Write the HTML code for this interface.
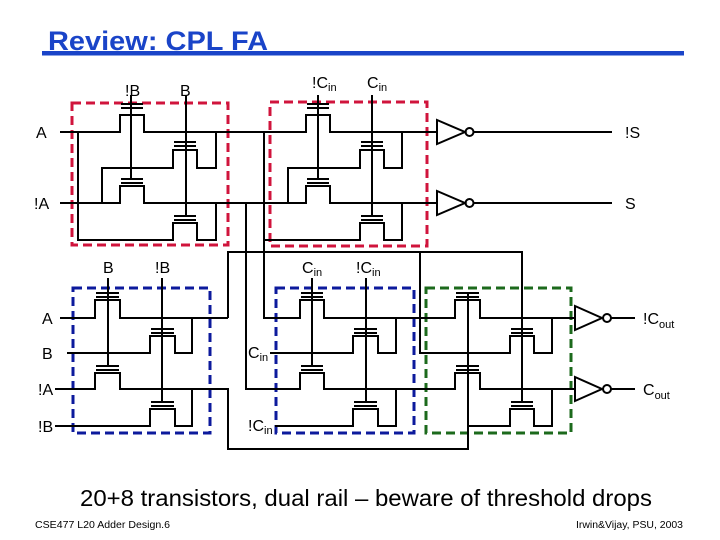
<!DOCTYPE html>
<html><head><meta charset="utf-8"><style>
html,body{margin:0;padding:0;background:#fff;}
svg{display:block;}
text{font-family:"Liberation Sans",sans-serif;fill:#000;}
</style></head><body>
<svg width="720" height="540" viewBox="0 0 720 540" xmlns="http://www.w3.org/2000/svg">
<text x="48" y="50" textLength="220" lengthAdjust="spacingAndGlyphs" style="font-size:27px;font-weight:bold;fill:#1a44c8">Review:  CPL FA</text>
<rect x="42" y="51" width="642" height="4.5" fill="#1a44c8"/>

<g fill="none" stroke-width="3" stroke-dasharray="9,5">
<rect x="72" y="103" width="156" height="142" stroke="#d0143c"/>
<rect x="270" y="102" width="157" height="144" stroke="#d0143c"/>
<rect x="73" y="288" width="137" height="145" stroke="#0c1a9c"/>
<rect x="276" y="288" width="138" height="145" stroke="#0c1a9c"/>
<rect x="426" y="288" width="145" height="145" stroke="#1c6a1c"/>
</g>

<g fill="none" stroke="#000" stroke-width="2">
<path d="M60,132 H120 V115 H144 V132 H306 V115 H330 V132 H437"/>
<path d="M60,203 H120 V186 H144 V203 H306 V186 H330 V203 H437"/>
<path d="M78,132 V240 H173 V223 H197 V240 H216 V203"/>
<path d="M102,203 V168 H173 V150 H197 V168 H216 V132"/>
<path d="M131,95 V179 M186,95 V216"/>
<path d="M264,132 V318 H300 V300 H324 V318 H455 V300 H480 V318 H575"/>
<path d="M264,240 H360 V223 H384 V240 H402 V203"/>
<path d="M288,203 V168 H360 V150 H384 V168 H402 V132"/>
<path d="M246,203 V389 H300 V373 H324 V389 H455 V373 H480 V389 H575"/>
<path d="M318,95 V179 M372,95 V216"/>
<path d="M228,318 V252 H522 V402"/>
<path d="M420,252 V353 H510 V336 H534 V353 H552 V318"/>
<path d="M60,318 H95 V300 H120 V318 H228"/>
<path d="M67,353 H150 V336 H175 V353 H192 V318"/>
<path d="M55,389 H95 V373 H120 V389 H228 V449 H468 V293"/>
<path d="M55,426 H150 V409 H175 V426 H192 V389"/>
<path d="M108,278 V366 M162,278 V402"/>
<path d="M270,353 H353 V336 H378 V353 H396 V318"/>
<path d="M275,426 H353 V409 H378 V426 H396 V389"/>
<path d="M312,278 V366 M366,278 V402"/>
<path d="M468,426 H510 V409 H534 V426 H552 V389"/>
<path d="
M121,104 H143 M121,108 H143 M121,179 H143 M121,183 H143
M174,142 H196 M174,146 H196 M174,216 H196 M174,220 H196
M307,104 H329 M307,108 H329 M307,179 H329 M307,183 H329
M361,142 H383 M361,146 H383 M361,216 H383 M361,220 H383
M96,293 H119 M96,297 H119 M96,366 H119 M96,370 H119
M151,329 H174 M151,333 H174 M151,402 H174 M151,406 H174
M301,293 H323 M301,297 H323 M301,366 H323 M301,370 H323
M354,329 H377 M354,333 H377 M354,402 H377 M354,406 H377
M456,293 H479 M456,297 H479 M456,366 H479 M456,370 H479
M511,329 H533 M511,333 H533 M511,402 H533 M511,406 H533"/>
<polygon points="437,120 437,144 465,132"/><circle cx="469.5" cy="132" r="4"/><path d="M474,132 H612"/>
<polygon points="437,191 437,215 465,203"/><circle cx="469.5" cy="203" r="4"/><path d="M474,203 H612"/>
<polygon points="575,306 575,330 602,318"/><circle cx="607" cy="318" r="4"/><path d="M611,318 H635"/>
<polygon points="575,377 575,401 602,389"/><circle cx="607" cy="389" r="4"/><path d="M611,389 H635"/>
</g>

<g style="font-size:16px">
<text x="125" y="96">!B</text>
<text x="180" y="96">B</text>
<text x="312" y="88">!C<tspan style="font-size:11px" dy="3">in</tspan></text>
<text x="367" y="88">C<tspan style="font-size:11px" dy="3">in</tspan></text>
<text x="36" y="138">A</text>
<text x="34" y="209">!A</text>
<text x="625" y="138">!S</text>
<text x="625" y="209">S</text>
<text x="103" y="273">B</text>
<text x="155" y="273">!B</text>
<text x="302" y="273">C<tspan style="font-size:11px" dy="3">in</tspan></text>
<text x="356" y="273">!C<tspan style="font-size:11px" dy="3">in</tspan></text>
<text x="42" y="324">A</text>
<text x="42" y="359">B</text>
<text x="38" y="395">!A</text>
<text x="38" y="432">!B</text>
<text x="248" y="358">C<tspan style="font-size:11px" dy="3">in</tspan></text>
<text x="248" y="431">!C<tspan style="font-size:11px" dy="3">in</tspan></text>
<text x="643" y="324">!C<tspan style="font-size:11px" dy="4">out</tspan></text>
<text x="643" y="395">C<tspan style="font-size:11px" dy="4">out</tspan></text>
</g>

<text x="80" y="506" textLength="572" lengthAdjust="spacingAndGlyphs" style="font-size:23px">20+8 transistors, dual rail – beware of threshold drops</text>
<text x="35" y="528" textLength="135" lengthAdjust="spacingAndGlyphs" style="font-size:10px">CSE477  L20 Adder Design.6</text>
<text x="576" y="528" textLength="107" lengthAdjust="spacingAndGlyphs" style="font-size:10px">Irwin&amp;Vijay, PSU, 2003</text>
</svg>
</body></html>
